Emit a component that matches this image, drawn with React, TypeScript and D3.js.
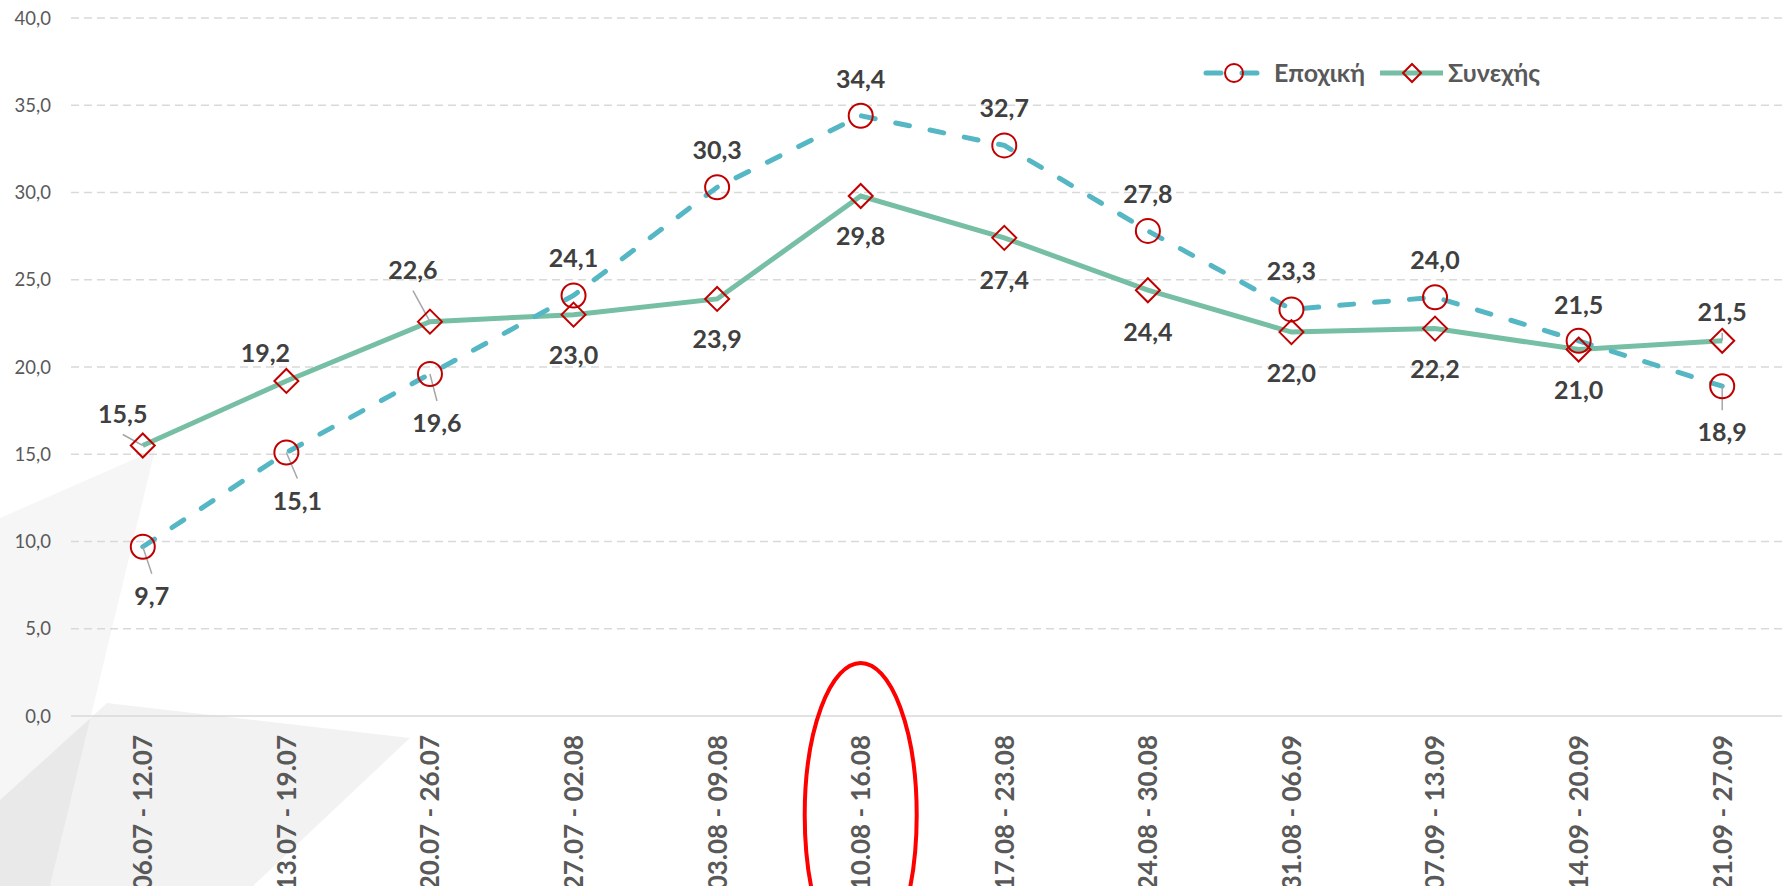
import React from 'react';
import * as d3 from 'd3';

// weeks on the x axis
const weeks = [
  '06.07 - 12.07', '13.07 - 19.07', '20.07 - 26.07', '27.07 - 02.08',
  '03.08 - 09.08', '10.08 - 16.08', '17.08 - 23.08', '24.08 - 30.08',
  '31.08 - 06.09', '07.09 - 13.09', '14.09 - 20.09', '21.09 - 27.09'
];

// Εποχική (dashed, circles)
const seasonal = [9.7, 15.1, 19.6, 24.1, 30.3, 34.4, 32.7, 27.8, 23.3, 24.0, 21.5, 18.9];
// Συνεχής (solid, diamonds)
const continuous = [15.5, 19.2, 22.6, 23.0, 23.9, 29.8, 27.4, 24.4, 22.0, 22.2, 21.0, 21.5];

const yTicks = [0, 5, 10, 15, 20, 25, 30, 35, 40];
const seriesNames = ['Εποχική', 'Συνεχής'];
const highlightWeek = '10.08 - 16.08';

// label placement relative to the point: [dx, dy, leader]
const seasonalLabelPos = [
  [9, 49, 1], [11, 48, 1], [7, 49, 1], [0, -37, 0], [0, -37, 0], [0, -37, 0],
  [0, -37, 0], [0, -37, 0], [0, -38, 0], [0, -37, 0], [0, -36, 0], [0, 46, 1]
];
const continuousLabelPos = [
  [-20, -32, 1], [-21, -28, 0], [-17, -52, 1], [0, 40, 0], [0, 40, 0], [0, 40, 0],
  [0, 42, 0], [0, 42, 0], [0, 41, 0], [0, 40, 0], [0, 40, 0], [0, -29, 1]
];

const W = 1782, H = 886;
const FONT = "Lato, 'Noto Sans', sans-serif";
const SEASONAL_COLOR = '#55B7C4';
const CONT_COLOR = '#76BFA4';
const MARKER = '#C00000';
const fmt = (v: number) => v.toFixed(1).replace('.', ',');

export default function App() {
  const x = d3.scaleBand().domain(weeks).range([71, 1794]);
  const cx = (w: string) => (x(w) as number) + x.bandwidth() / 2;
  const y = d3.scaleLinear().domain([0, 40]).range([716, 18]);

  const line = d3.line<number>()
    .x((_, i) => cx(weeks[i]))
    .y(d => y(d));

  const diamond = (px: number, py: number, r: number) =>
    `M${px},${py - r}L${px + r},${py}L${px},${py + r}L${px - r},${py}Z`;

  const labels = (vals: number[], pos: number[][], key: string) =>
    vals.map((v, i) => {
      const px = cx(weeks[i]), py = y(v);
      const [dx, dy, leader] = pos[i];
      const lx = px + dx, ly = py + dy;
      return (
        <g key={key + i}>
          {leader ? (
            <line x1={px} y1={py} x2={lx} y2={ly + (dy > 0 ? -22 : 21)}
              stroke="#A6A6A6" strokeWidth={1.5} />
          ) : null}
          <text x={lx} y={ly} dy="0.36em" textAnchor="middle" fontSize={25}
            fontWeight="bold" fill="#404040">{fmt(v)}</text>
        </g>
      );
    });

  const hx = cx(highlightWeek);

  return (
    <svg width={W} height={H} style={{ position: 'absolute', left: 0, top: 0 }}
      fontFamily={FONT}>
      <rect width={W} height={H} fill="#fff" />
      {/* background decoration */}
      <polygon points="0,518 155,450 50,886 0,886" fill="#000" fillOpacity={0.035} />
      <polygon points="0,800 107,703 410,738 253,886 0,886" fill="#000" fillOpacity={0.05} />

      {/* grid */}
      {yTicks.map(t => (
        <g key={t}>
          <line x1={71} x2={W} y1={y(t)} y2={y(t)} stroke="#D9D9D9"
            strokeWidth={1.5} strokeDasharray={t === 0 ? undefined : '8 5'} />
          <text x={51} y={y(t)} dy="0.36em" textAnchor="end" fontSize={18.5}
            fill="#595959">{fmt(t)}</text>
        </g>
      ))}

      {/* x labels */}
      {weeks.map(w => (
        <text key={w} transform={`translate(${cx(w)},735) rotate(-90)`} dy="0.36em"
          textAnchor="end" fontSize={26} fontWeight="bold" fill="#595959">{w}</text>
      ))}

      {/* lines */}
      <path d={line(continuous) as string} fill="none" stroke={CONT_COLOR} strokeWidth={5} />
      <path d={line(seasonal) as string} fill="none" stroke={SEASONAL_COLOR} strokeWidth={5}
        strokeDasharray="14 21" strokeLinecap="round" />

      {labels(seasonal, seasonalLabelPos, 's')}
      {labels(continuous, continuousLabelPos, 'c')}

      {/* markers */}
      {seasonal.map((v, i) => (
        <circle key={'sm' + i} cx={cx(weeks[i])} cy={y(v)} r={12} fill="none"
          stroke={MARKER} strokeWidth={2} />
      ))}
      {continuous.map((v, i) => (
        <path key={'cm' + i} d={diamond(cx(weeks[i]), y(v), 12)} fill="none"
          stroke={MARKER} strokeWidth={2} />
      ))}

      {/* legend */}
      <line x1={1206} x2={1262} y1={73} y2={73} stroke={SEASONAL_COLOR} strokeWidth={5}
        strokeDasharray="15 21" strokeLinecap="round" />
      <circle cx={1234} cy={73} r={9} fill="none" stroke={MARKER} strokeWidth={2} />
      <text x={1274} y={73} dy="0.36em" fontSize={25} fontWeight="bold" fill="#595959">
        {seriesNames[0]}
      </text>
      <line x1={1380} x2={1443} y1={73} y2={73} stroke={CONT_COLOR} strokeWidth={5} />
      <path d={diamond(1412, 73, 9)} fill="none" stroke={MARKER} strokeWidth={2} />
      <text x={1448} y={73} dy="0.36em" fontSize={25} fontWeight="bold" fill="#595959">
        {seriesNames[1]}
      </text>

      {/* highlighted week */}
      <ellipse cx={hx} cy={815} rx={56} ry={152} fill="none" stroke="#FF0000" strokeWidth={4} />
    </svg>
  );
}
